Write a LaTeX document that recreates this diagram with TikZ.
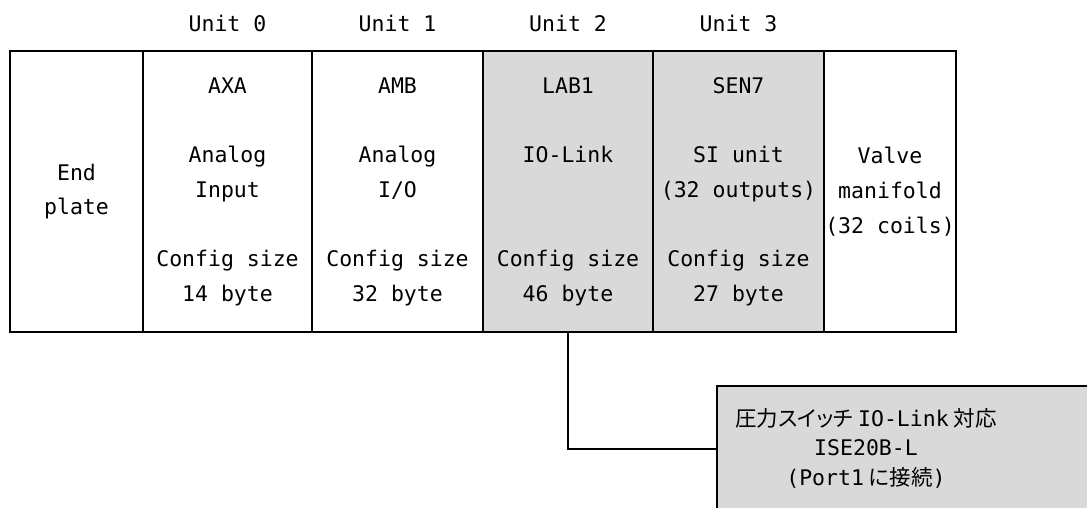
\documentclass[tikz,border=0pt]{standalone}
\usepackage{fontspec}
\newfontfamily\gothic{DejaVu Sans Mono}
\newfontfamily\jp[RawFeature=+palt]{Noto Sans CJK JP}
\definecolor{unitgray}{HTML}{D9D9D9}

\begin{document}
\begin{tikzpicture}[x=1pt, y=-1pt,
    cell/.style={draw, line width=2pt, inner sep=0pt, minimum height=281pt, align=center,
      font=\gothic\fontsize{21.5}{34.7}\selectfont},
    unitlbl/.style={inner sep=0pt, font=\gothic\fontsize{21.5}{26}\selectfont},
    swbox/.style={draw, line width=1.8pt, fill=unitgray, inner sep=0pt, anchor=north west}]
        \useasboundingbox (0,0) rectangle (1087,508);
        \clip (0,0) rectangle (1087,508);

        % Manifold units
        \node[cell, minimum width=133pt] (endp) at (76.5,191.5) {End\\plate};
        \node[cell, minimum width=169pt] (axa) at (227.5,191.5) {AXA\\~\\Analog\\Input\\~\\Config size\\14 byte};
        \node[cell, minimum width=171pt] (amb) at (397.5,191.5) {AMB\\~\\Analog\\I/O\\~\\Config size\\32 byte};
        \node[cell, minimum width=170pt, fill=unitgray] (lab) at (568,191.5) {LAB1\\~\\IO-Link\\~\\~\\Config size\\46 byte};
        \node[cell, minimum width=171pt, fill=unitgray] (sen) at (738.5,191.5) {SEN7\\~\\SI unit\\(32 outputs)\\~\\Config size\\27 byte};
        \node[cell, minimum width=132pt] (valve) at (890,191.5) {Valve\\manifold\\(32 coils)};

        % Unit numbers
        \node[unitlbl] (u0) at ([yshift=27pt]axa.north) {Unit 0};
        \node[unitlbl] (u1) at ([yshift=27pt]amb.north) {Unit 1};
        \node[unitlbl] (u2) at ([yshift=27pt]lab.north) {Unit 2};
        \node[unitlbl] (u3) at ([yshift=27pt]sen.north) {Unit 3};

        % Pressure switch on the IO-Link port
        \node[swbox, minimum width=420pt, minimum height=126pt] (sw) at (716,385) {};
        \node[align=center, inner sep=0pt, font=\gothic\fontsize{21.5}{29.5}\selectfont] (swtext) at (866,448)
            {{\jp 圧力スイッチ}\hspace{5pt}IO-Link\hspace{5pt}{\jp 対応}\\ISE20B-L\\(Port1\hspace{5pt}{\jp に接続})};
        \draw[line width=1.3pt] (lab.south) |- (sw.west);
    \end{tikzpicture}
\end{document}
